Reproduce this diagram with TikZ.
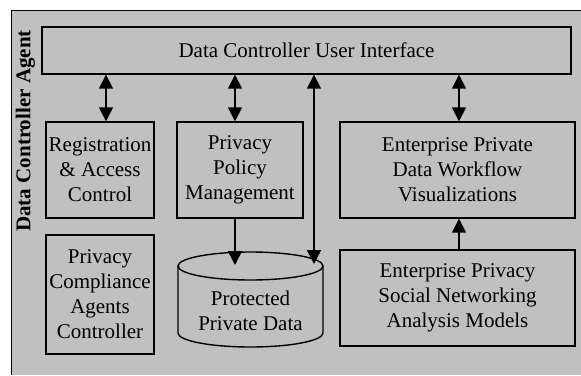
\documentclass[tikz,border=0pt]{standalone}
\usepackage{fontspec}
\setmainfont{Liberation Serif}
\usetikzlibrary{arrows.meta}
\definecolor{panel}{HTML}{C0C0C0}
\tikzset{
  box/.style={draw=black, line width=1.4pt, fill=panel, inner sep=0pt, align=center,
    font=\fontsize{21}{25}\selectfont},
  lbl/.style={inner sep=0pt, align=center, font=\fontsize{21}{25}\selectfont},
  link/.style={line width=1.6pt, -{Triangle[length=14pt,width=14pt]}},
  dlink/.style={line width=1.6pt, {Triangle[length=14pt,width=14pt]}-{Triangle[length=14pt,width=14pt]}}
}
\begin{document}
\begin{tikzpicture}[x=1pt,y=-1pt]
\useasboundingbox (0,0) rectangle (581,375);
\fill[white] (0,0) rectangle (581,375);
\fill[panel] (11,10) rectangle (581,375);
\draw[line width=1pt] (11,375) -- (11,10) -- (581,10);
\node[rotate=90, inner sep=0pt, font=\fontsize{21}{25}\selectfont\bfseries] (agent) at (25.5,131) {Data Controller Agent};
% boxes
\node[box, minimum width=529pt, minimum height=47pt] (ui) at (306.5,50.5) {Data Controller User Interface};
\node[box, minimum width=108pt, minimum height=96pt] (reg) at (100,170) {Registration\\\& Access\\Control};
\node[box, minimum width=126pt, minimum height=96pt] (ppm) at (240,170) {Privacy\\Policy\\Management};
\node[box, minimum width=235pt, minimum height=96pt] (vis) at (457.5,170) {Enterprise Private\\Data Workflow\\Visualizations};
\node[box, minimum width=108pt, minimum height=119pt] (pca) at (100,294.5) {Privacy\\Compliance\\Agents\\Controller};
\node[box, minimum width=235pt, minimum height=96pt] (sna) at (457.5,298) {Enterprise Privacy\\Social Networking\\Analysis Models};
% cylinder
\draw[line width=1.4pt, fill=panel] (178,266) -- (178,333) arc[start angle=180, end angle=0, x radius=72.5, y radius=14] -- (323,266);
\draw[line width=1.4pt, fill=panel] (250.5,266) ellipse[x radius=72.5, y radius=14];
\node[lbl] (ppd) at (250.5,310.5) {Protected\\Private Data};
\coordinate (cyl1) at (235,265);
\coordinate (cyl2) at (314,264);
% connectors
\draw[dlink] (ui.south -| 106,0) -- (reg.north -| 106,0);
\draw[dlink] (ui.south -| 235,0) -- (ppm.north -| 235,0);
\draw[dlink] (ui.south -| 459,0) -- (vis.north -| 459,0);
\draw[link] (ppm.south -| 235,0) -- (cyl1);
\draw[dlink] (ui.south -| 314,0) -- (cyl2);
\draw[link] (sna.north -| 459,0) -- (vis.south -| 459,0);
\end{tikzpicture}
\end{document}
